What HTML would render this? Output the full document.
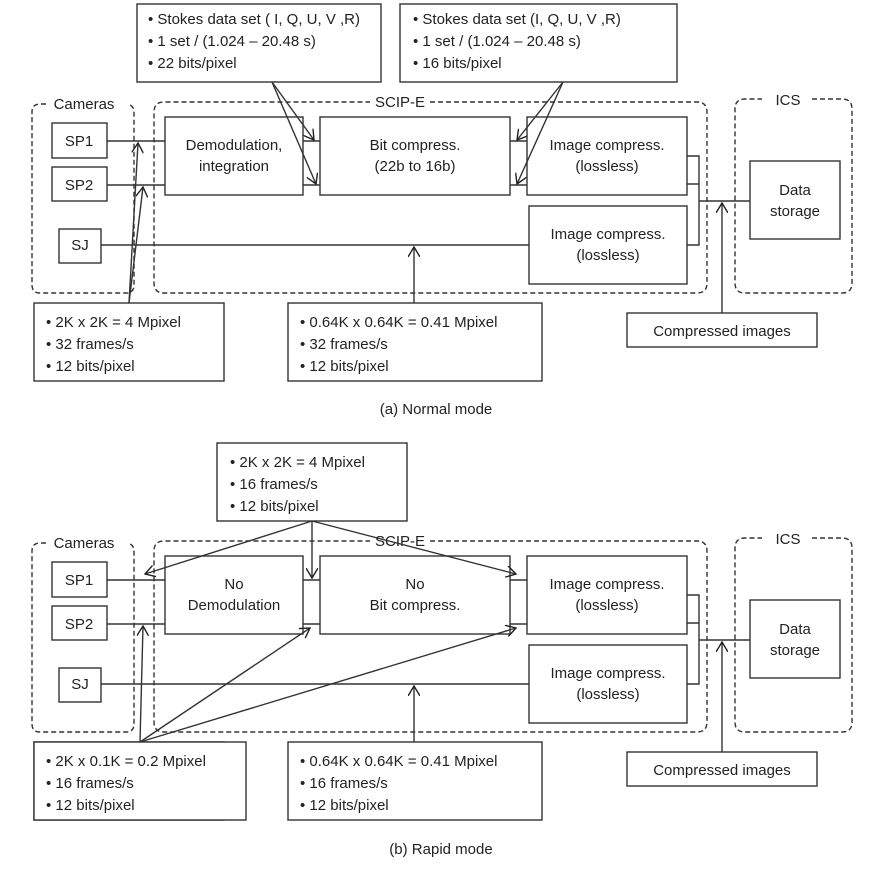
<!DOCTYPE html>
<html><head><meta charset="utf-8"><style>
html,body{margin:0;padding:0;background:#fff;}
svg{display:block;}
text{font-family:"Liberation Sans",sans-serif;font-size:15px;fill:#222;}
</style></head><body>
<svg width="872" height="872" viewBox="0 0 872 872" xmlns="http://www.w3.org/2000/svg">
<defs>
<marker id="a" markerWidth="12" markerHeight="12" refX="10" refY="6" orient="auto" markerUnits="userSpaceOnUse">
<path d="M0,0 L10,6 L0,12" fill="none" stroke="#222" stroke-width="1.4"/>
</marker>
<g id="common" stroke="#333" stroke-width="1.4" fill="none">
  <path d="M 46 104 H 40 Q 32 104 32 112 V 285 Q 32 293 40 293 H 126 Q 134 293 134 285 V 112 Q 134 106 128 104" stroke-dasharray="5,3"/>
  <path d="M 430 102 H 697 Q 707 102 707 112 V 283 Q 707 293 697 293 H 164 Q 154 293 154 283 V 112 Q 154 102 164 102 H 370" stroke-dasharray="5,3"/>
  <path d="M 812 99 H 842 Q 852 99 852 109 V 283 Q 852 293 842 293 H 745 Q 735 293 735 283 V 109 Q 735 99 745 99 H 762" stroke-dasharray="5,3"/>
  <rect x="52" y="123" width="55" height="35"/>
  <rect x="52" y="167" width="55" height="34"/>
  <rect x="59" y="229" width="42" height="34"/>
  <rect x="165" y="117" width="138" height="78"/>
  <rect x="320" y="117" width="190" height="78"/>
  <rect x="527" y="117" width="160" height="78"/>
  <rect x="529" y="206" width="158" height="78"/>
  <rect x="750" y="161" width="90" height="78"/>
  <rect x="627" y="313" width="190" height="34"/>
  <path d="M107 141 H165 M107 185 H165 M303 141 H320 M303 185 H320 M510 141 H527 M510 185 H527 M101 245 H529"/>
  <path d="M687 156 H699 V245 H687 M687 184 H699 M699 201 H750"/>
  <path d="M722 313 V203" marker-end="url(#a)"/>
  <rect x="34" y="303" width="190" height="78"/>
  <rect x="288" y="303" width="254" height="78"/>
  <path d="M414 303 V247" marker-end="url(#a)"/>
</g>
<g id="ctext" text-anchor="middle">
  <text x="84" y="109">Cameras</text>
  <text x="400" y="107">SCIP-E</text>
  <text x="788" y="105">ICS</text>
  <text x="79" y="146">SP1</text>
  <text x="79" y="190">SP2</text>
  <text x="80" y="250">SJ</text>
  <text x="607" y="150">Image compress.</text>
  <text x="607" y="171">(lossless)</text>
  <text x="608" y="239">Image compress.</text>
  <text x="608" y="260">(lossless)</text>
  <text x="795" y="195">Data</text>
  <text x="795" y="216">storage</text>
  <text x="722" y="336">Compressed images</text>
</g>
</defs>

<use href="#common"/>
<use href="#ctext"/>
<g text-anchor="middle">
  <text x="234" y="150">Demodulation,</text>
  <text x="234" y="171">integration</text>
  <text x="415" y="150">Bit compress.</text>
  <text x="415" y="171">(22b to 16b)</text>
  <text x="436" y="414" font-size="14">(a) Normal mode</text>
</g>
<g stroke="#333" stroke-width="1.4" fill="none">
  <rect x="137" y="4" width="244" height="78"/>
  <rect x="400" y="4" width="277" height="78"/>
  <path d="M272 82 L314 140" marker-end="url(#a)"/>
  <path d="M272 82 L316 184" marker-end="url(#a)"/>
  <path d="M563 82 L517 140" marker-end="url(#a)"/>
  <path d="M563 82 L517 184" marker-end="url(#a)"/>
  <path d="M129 303 L138 143" marker-end="url(#a)"/>
  <path d="M129 303 L143 187" marker-end="url(#a)"/>
</g>
<g>
  <text x="148" y="24">• Stokes data set ( I, Q, U, V ,R)</text>
  <text x="148" y="46">• 1 set / (1.024 – 20.48 s)</text>
  <text x="148" y="68">• 22 bits/pixel</text>
  <text x="413" y="24">• Stokes data set (I, Q, U, V ,R)</text>
  <text x="413" y="46">• 1 set / (1.024 – 20.48 s)</text>
  <text x="413" y="68">• 16 bits/pixel</text>
  <text x="46" y="327">• 2K x 2K = 4 Mpixel</text>
  <text x="46" y="349">• 32 frames/s</text>
  <text x="46" y="371">• 12 bits/pixel</text>
  <text x="300" y="327">• 0.64K x 0.64K = 0.41 Mpixel</text>
  <text x="300" y="349">• 32 frames/s</text>
  <text x="300" y="371">• 12 bits/pixel</text>
</g>

<g transform="translate(0,439)">
  <use href="#common"/>
  <use href="#ctext"/>
  <g text-anchor="middle">
    <text x="234" y="150">No</text>
    <text x="234" y="171">Demodulation</text>
    <text x="415" y="150">No</text>
    <text x="415" y="171">Bit compress.</text>
  </g>
</g>
<g stroke="#333" stroke-width="1.4" fill="none">
  <rect x="34" y="742" width="212" height="78" fill="#fff"/>
  <rect x="217" y="443" width="190" height="78"/>
  <path d="M312 521 L145 574" marker-end="url(#a)"/>
  <path d="M312 521 L312 578" marker-end="url(#a)"/>
  <path d="M312 521 L516 574" marker-end="url(#a)"/>
  <path d="M140 742 L143 626" marker-end="url(#a)"/>
  <path d="M140 742 L310 628" marker-end="url(#a)"/>
  <path d="M140 742 L516 628" marker-end="url(#a)"/>
</g>
<g>
  <text x="230" y="467">• 2K x 2K = 4 Mpixel</text>
  <text x="230" y="489">• 16 frames/s</text>
  <text x="230" y="511">• 12 bits/pixel</text>
  <text x="46" y="766">• 2K x 0.1K = 0.2 Mpixel</text>
  <text x="46" y="788">• 16 frames/s</text>
  <text x="46" y="810">• 12 bits/pixel</text>
  <text x="300" y="766">• 0.64K x 0.64K = 0.41 Mpixel</text>
  <text x="300" y="788">• 16 frames/s</text>
  <text x="300" y="810">• 12 bits/pixel</text>
  <text x="441" y="854" font-size="14" text-anchor="middle">(b) Rapid mode</text>
</g>
</svg>
</body></html>
